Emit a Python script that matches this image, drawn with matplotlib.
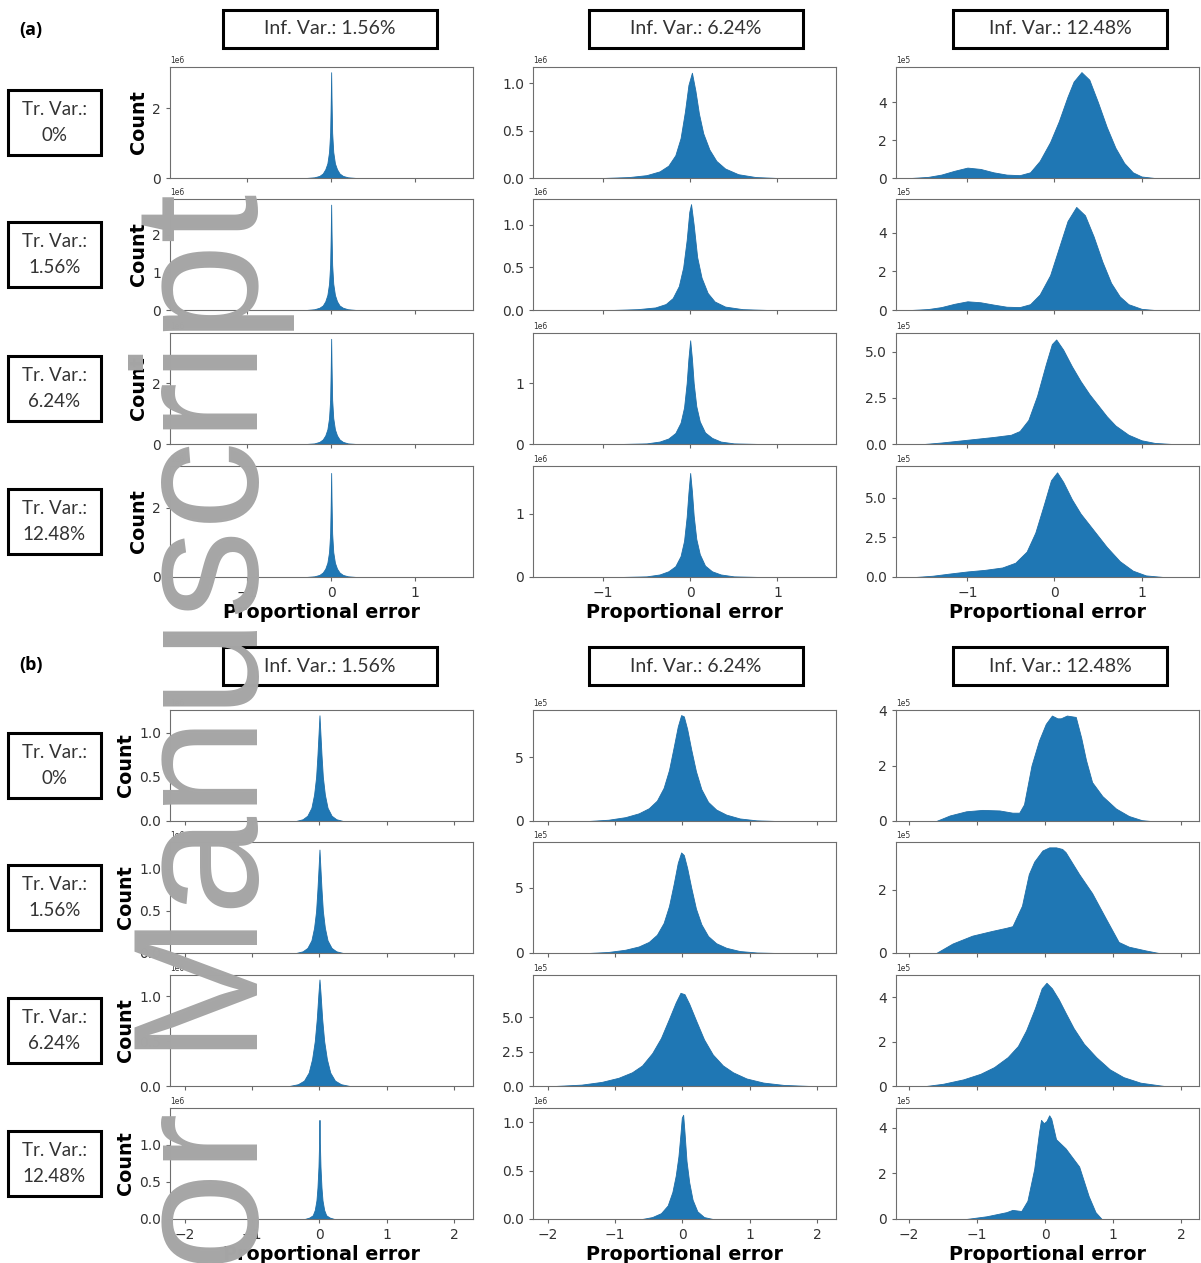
import matplotlib.pyplot as plt
import numpy as np
from matplotlib.patches import Rectangle

# figure size in pixels, every position below is in pixels from the top left corner
W, H = 1201, 1263

inf_var = ['Inf. Var.: 1.56%', 'Inf. Var.: 6.24%', 'Inf. Var.: 12.48%']
tr_var = ['Tr. Var.:\n0%', 'Tr. Var.:\n1.56%', 'Tr. Var.:\n6.24%', 'Tr. Var.:\n12.48%']

# +++ panel (a): proportional error vs count (count in units of the axis offset) +++
a11_x = [-0.3, -0.2, -0.14, -0.1, -0.07, -0.045, -0.025, -0.012, -0.005, 0, 0.005, 0.012, 0.025, 0.045, 0.07, 0.1, 0.14, 0.2, 0.3]
a11_y = [0, 0.02, 0.06, 0.13, 0.25, 0.42, 0.75, 1.3, 2.2, 3.04, 2.2, 1.3, 0.75, 0.42, 0.25, 0.13, 0.06, 0.02, 0]
a21_x = [-0.3, -0.2, -0.14, -0.1, -0.07, -0.045, -0.025, -0.012, -0.005, 0, 0.005, 0.012, 0.025, 0.045, 0.07, 0.1, 0.14, 0.2, 0.3]
a21_y = [0, 0.02, 0.06, 0.12, 0.23, 0.4, 0.7, 1.2, 2.0, 2.8, 2.0, 1.2, 0.7, 0.4, 0.23, 0.12, 0.06, 0.02, 0]
a31_x = [-0.3, -0.2, -0.14, -0.1, -0.07, -0.045, -0.025, -0.012, -0.005, 0, 0.005, 0.012, 0.025, 0.045, 0.07, 0.1, 0.14, 0.2, 0.3]
a31_y = [0, 0.02, 0.07, 0.15, 0.28, 0.48, 0.85, 1.45, 2.5, 3.45, 2.5, 1.45, 0.85, 0.48, 0.28, 0.15, 0.07, 0.02, 0]
a41_x = [-0.3, -0.2, -0.14, -0.1, -0.07, -0.045, -0.025, -0.012, -0.005, 0, 0.005, 0.012, 0.025, 0.045, 0.07, 0.1, 0.14, 0.2, 0.3]
a41_y = [0, 0.02, 0.06, 0.13, 0.24, 0.41, 0.72, 1.25, 2.15, 3.0, 2.15, 1.25, 0.72, 0.41, 0.24, 0.13, 0.06, 0.02, 0]

a12_x = [-1.0, -0.7, -0.5, -0.35, -0.25, -0.17, -0.11, -0.06, -0.02, 0.02, 0.06, 0.1, 0.15, 0.22, 0.3, 0.4, 0.55, 0.75, 1.0]
a12_y = [0, 0.01, 0.03, 0.07, 0.13, 0.24, 0.42, 0.7, 0.98, 1.11, 0.92, 0.68, 0.47, 0.3, 0.18, 0.1, 0.04, 0.01, 0]
a22_x = [-0.9, -0.6, -0.4, -0.28, -0.2, -0.13, -0.08, -0.04, -0.01, 0.01, 0.04, 0.08, 0.13, 0.2, 0.28, 0.4, 0.6, 0.9]
a22_y = [0, 0.01, 0.03, 0.07, 0.14, 0.28, 0.5, 0.82, 1.15, 1.24, 1.0, 0.62, 0.38, 0.2, 0.1, 0.04, 0.01, 0]
a32_x = [-0.8, -0.5, -0.35, -0.25, -0.17, -0.11, -0.07, -0.04, -0.02, 0, 0.02, 0.04, 0.07, 0.11, 0.17, 0.25, 0.35, 0.5, 0.8]
a32_y = [0, 0.01, 0.04, 0.09, 0.18, 0.35, 0.6, 1.0, 1.4, 1.7, 1.4, 1.0, 0.62, 0.37, 0.19, 0.1, 0.04, 0.01, 0]
a42_x = [-0.8, -0.5, -0.35, -0.25, -0.17, -0.11, -0.07, -0.04, -0.02, 0, 0.02, 0.04, 0.07, 0.11, 0.17, 0.25, 0.35, 0.5, 0.8]
a42_y = [0, 0.01, 0.04, 0.09, 0.17, 0.33, 0.57, 0.95, 1.33, 1.64, 1.35, 0.97, 0.6, 0.36, 0.18, 0.09, 0.04, 0.01, 0]

a13_x = [-1.65, -1.45, -1.3, -1.15, -1.0, -0.85, -0.7, -0.55, -0.4, -0.28, -0.17, -0.05, 0.05, 0.15, 0.22, 0.31, 0.4, 0.5, 0.6, 0.7, 0.8, 0.9, 1.0, 1.15]
a13_y = [0, 0.06, 0.18, 0.38, 0.55, 0.48, 0.3, 0.18, 0.15, 0.3, 0.9, 1.9, 3.0, 4.3, 5.1, 5.6, 5.2, 4.0, 2.7, 1.6, 0.8, 0.3, 0.08, 0]
a23_x = [-1.65, -1.45, -1.3, -1.15, -1.0, -0.85, -0.7, -0.55, -0.4, -0.28, -0.17, -0.05, 0.05, 0.15, 0.25, 0.35, 0.45, 0.55, 0.65, 0.75, 0.85, 1.0, 1.15]
a23_y = [0, 0.05, 0.15, 0.32, 0.45, 0.4, 0.28, 0.17, 0.15, 0.3, 0.8, 1.8, 3.2, 4.6, 5.33, 4.9, 3.8, 2.5, 1.4, 0.7, 0.3, 0.06, 0]
a33_x = [-1.5, -1.3, -1.1, -0.9, -0.7, -0.5, -0.4, -0.3, -0.2, -0.1, -0.03, 0.02, 0.1, 0.2, 0.3, 0.4, 0.5, 0.6, 0.7, 0.85, 1.0, 1.15, 1.35]
a33_y = [0, 0.08, 0.18, 0.28, 0.38, 0.5, 0.7, 1.3, 2.6, 4.3, 5.4, 5.65, 5.1, 4.2, 3.4, 2.7, 2.1, 1.5, 1.0, 0.5, 0.2, 0.06, 0]
a43_x = [-1.6, -1.4, -1.2, -1.0, -0.8, -0.6, -0.45, -0.32, -0.22, -0.12, -0.04, 0.03, 0.1, 0.2, 0.3, 0.4, 0.5, 0.6, 0.75, 0.9, 1.05, 1.25]
a43_y = [0, 0.08, 0.22, 0.35, 0.45, 0.6, 0.9, 1.6, 2.8, 4.6, 6.1, 6.6, 6.0, 4.9, 4.0, 3.3, 2.6, 1.9, 1.0, 0.4, 0.1, 0]

# +++ panel (b) +++
b11_x = [-0.35, -0.25, -0.18, -0.12, -0.08, -0.05, -0.03, -0.01, 0, 0.01, 0.03, 0.05, 0.08, 0.12, 0.18, 0.25, 0.35]
b11_y = [0, 0.02, 0.06, 0.15, 0.3, 0.5, 0.75, 1.05, 1.2, 1.05, 0.75, 0.5, 0.3, 0.15, 0.06, 0.02, 0]
b21_x = [-0.35, -0.25, -0.18, -0.12, -0.08, -0.05, -0.03, -0.01, 0, 0.01, 0.03, 0.05, 0.08, 0.12, 0.18, 0.25, 0.35]
b21_y = [0, 0.02, 0.06, 0.15, 0.3, 0.5, 0.76, 1.07, 1.23, 1.07, 0.76, 0.5, 0.3, 0.15, 0.06, 0.02, 0]
b31_x = [-0.45, -0.32, -0.23, -0.16, -0.11, -0.07, -0.04, -0.015, 0, 0.015, 0.04, 0.07, 0.11, 0.16, 0.23, 0.32, 0.45]
b31_y = [0, 0.02, 0.06, 0.15, 0.3, 0.5, 0.75, 1.04, 1.19, 1.04, 0.75, 0.5, 0.3, 0.15, 0.06, 0.02, 0]
b41_x = [-0.22, -0.15, -0.1, -0.07, -0.045, -0.03, -0.015, -0.005, 0, 0.005, 0.015, 0.03, 0.045, 0.07, 0.1, 0.15, 0.22]
b41_y = [0, 0.02, 0.05, 0.12, 0.25, 0.42, 0.7, 1.05, 1.33, 1.05, 0.7, 0.42, 0.25, 0.12, 0.05, 0.02, 0]

b12_x = [-1.4, -1.1, -0.85, -0.65, -0.5, -0.38, -0.28, -0.2, -0.13, -0.07, -0.02, 0.02, 0.07, 0.13, 0.2, 0.28, 0.38, 0.5, 0.65, 0.85, 1.1, 1.4]
b12_y = [0, 0.1, 0.3, 0.6, 1.0, 1.6, 2.6, 4.0, 5.8, 7.4, 8.3, 8.2, 7.2, 5.6, 3.9, 2.5, 1.5, 0.9, 0.5, 0.2, 0.05, 0]
b22_x = [-1.4, -1.1, -0.85, -0.65, -0.5, -0.38, -0.28, -0.2, -0.13, -0.07, -0.02, 0.02, 0.07, 0.13, 0.2, 0.28, 0.38, 0.5, 0.65, 0.85, 1.1, 1.4]
b22_y = [0, 0.08, 0.25, 0.5, 0.85, 1.4, 2.3, 3.6, 5.3, 6.9, 7.7, 7.5, 6.5, 5.0, 3.4, 2.2, 1.3, 0.75, 0.4, 0.15, 0.04, 0]
b32_x = [-1.9, -1.5, -1.2, -0.95, -0.75, -0.6, -0.45, -0.32, -0.2, -0.1, -0.03, 0.03, 0.1, 0.2, 0.32, 0.45, 0.6, 0.75, 0.95, 1.2, 1.5, 1.9]
b32_y = [0, 0.1, 0.3, 0.6, 1.0, 1.5, 2.4, 3.5, 4.9, 6.1, 6.8, 6.7, 6.0, 4.8, 3.4, 2.3, 1.5, 1.0, 0.55, 0.25, 0.08, 0]
b42_x = [-0.6, -0.45, -0.32, -0.22, -0.15, -0.1, -0.06, -0.03, -0.01, 0.01, 0.03, 0.06, 0.1, 0.15, 0.22, 0.32, 0.45]
b42_y = [0, 0.02, 0.06, 0.14, 0.28, 0.45, 0.65, 0.88, 1.05, 1.08, 0.9, 0.6, 0.38, 0.2, 0.08, 0.02, 0]

b13_x = [-1.6, -1.4, -1.16, -0.92, -0.67, -0.48, -0.38, -0.31, -0.2, -0.09, 0.01, 0.1, 0.18, 0.23, 0.32, 0.45, 0.53, 0.6, 0.69, 0.84, 1.04, 1.23, 1.42, 1.55]
b13_y = [0, 0.2, 0.35, 0.4, 0.38, 0.3, 0.3, 0.6, 2.0, 2.9, 3.5, 3.8, 3.7, 3.7, 3.8, 3.75, 3.0, 2.2, 1.4, 0.9, 0.45, 0.18, 0.03, 0]
b23_x = [-1.6, -1.36, -1.07, -0.78, -0.57, -0.48, -0.34, -0.24, -0.16, -0.04, 0.06, 0.16, 0.25, 0.3, 0.5, 0.69, 0.89, 1.08, 1.23, 1.48, 1.67]
b23_y = [0, 0.3, 0.55, 0.7, 0.8, 0.85, 1.5, 2.5, 2.9, 3.25, 3.35, 3.35, 3.3, 3.2, 2.5, 1.9, 1.1, 0.35, 0.2, 0.08, 0]
b33_x = [-1.75, -1.5, -1.2, -0.95, -0.75, -0.55, -0.4, -0.28, -0.15, -0.05, 0.02, 0.1, 0.2, 0.3, 0.42, 0.57, 0.75, 0.95, 1.15, 1.4, 1.75]
b33_y = [0, 0.1, 0.3, 0.55, 0.85, 1.3, 1.8, 2.5, 3.5, 4.4, 4.65, 4.4, 3.9, 3.3, 2.6, 1.9, 1.3, 0.75, 0.4, 0.15, 0]
b43_x = [-1.16, -0.86, -0.57, -0.48, -0.35, -0.26, -0.16, -0.09, -0.06, -0.02, 0.02, 0.06, 0.09, 0.16, 0.3, 0.5, 0.64, 0.74, 0.83]
b43_y = [0, 0.12, 0.3, 0.4, 0.35, 0.8, 2.2, 3.8, 4.35, 4.2, 4.3, 4.55, 4.4, 3.5, 3.1, 2.3, 1.0, 0.3, 0]

# axis settings (units of the offset)
a_scale = [[1e6, 1e6, 1e5]] * 4
a_ytop = [[3.19, 1.17, 5.87], [2.95, 1.30, 5.74], [3.64, 1.82, 6.0], [3.2, 1.75, 7.0]]
a_yticks = [[[0, 2], [0, 0.5, 1.0], [0, 2, 4]],
            [[0, 1, 2], [0, 0.5, 1.0], [0, 2, 4]],
            [[0, 2], [0, 1], [0, 2.5, 5.0]],
            [[0, 2], [0, 1], [0, 2.5, 5.0]]]
a_xlim = [(-1.92, 1.69), (-1.8, 1.67), (-1.82, 1.66)]
a_xticks = [-1, 0, 1]

b_scale = [[1e6, 1e5, 1e5], [1e6, 1e5, 1e5], [1e6, 1e5, 1e5], [1e6, 1e6, 1e5]]
b_ytop = [[1.26, 8.7, 4.0], [1.32, 8.5, 3.52], [1.24, 8.1, 5.0], [1.49, 1.15, 4.87]]
b_yticks = [[[0, 0.5, 1.0], [0, 5], [0, 2, 4]],
            [[0, 0.5, 1.0], [0, 5], [0, 2]],
            [[0, 0.5, 1.0], [0, 2.5, 5.0], [0, 2, 4]],
            [[0, 0.5, 1.0], [0, 0.5, 1.0], [0, 2, 4]]]
b_xlim = [(-2.22, 2.28), (-2.22, 2.28), (-2.19, 2.26)]
b_xticks = [-2, -1, 0, 1, 2]

a_curves = [[(a11_x, a11_y), (a12_x, a12_y), (a13_x, a13_y)],
            [(a21_x, a21_y), (a22_x, a22_y), (a23_x, a23_y)],
            [(a31_x, a31_y), (a32_x, a32_y), (a33_x, a33_y)],
            [(a41_x, a41_y), (a42_x, a42_y), (a43_x, a43_y)]]
b_curves = [[(b11_x, b11_y), (b12_x, b12_y), (b13_x, b13_y)],
            [(b21_x, b21_y), (b22_x, b22_y), (b23_x, b23_y)],
            [(b31_x, b31_y), (b32_x, b32_y), (b33_x, b33_y)],
            [(b41_x, b41_y), (b42_x, b42_y), (b43_x, b43_y)]]

col_left = [170, 533, 896]
ax_w, ax_h = 303, 111
head_x = [223, 589, 953]
head_w = 214

fig = plt.figure(figsize=(W / 100, H / 100), dpi=100)
fig.patch.set_facecolor('white')


def px_box(x, y, w, h, lw=2.2):
    # rectangle given in pixels from the top left
    fig.add_artist(Rectangle((x / W, 1 - (y + h) / H), w / W, h / H, transform=fig.transFigure,
                             fill=False, edgecolor='black', linewidth=lw))


def px_text(x, y, s, **kw):
    fig.text(x / W, 1 - y / H, s, **kw)


def draw_panel(row_top, curves, scales, ytops, yticks, xlims, xticks, head_y, tag, tag_y):
    px_text(31, tag_y, tag, ha='center', va='center', fontsize=13, fontweight='bold', family='Open Sans')
    for j in range(3):
        px_box(head_x[j], head_y, head_w, 38)
        px_text(head_x[j] + head_w / 2, head_y + 19, inf_var[j], ha='center', va='center',
                fontsize=14, family='Lato', color='#333333')
    for i in range(4):
        px_box(8, row_top[i] + 23, 93, 65)
        px_text(54.5, row_top[i] + 55.5, tr_var[i], ha='center', va='center', fontsize=13.5,
                family='Lato', color='#333333', linespacing=1.65)
        for j in range(3):
            ax = fig.add_axes([col_left[j] / W, 1 - (row_top[i] + ax_h) / H, ax_w / W, ax_h / H])
            x, y = curves[i][j]
            s = scales[i][j]
            ax.fill_between(x, np.array(y) * s, 0, color='#1f77b4', linewidth=0.6, edgecolor='#1f6fa8')
            ax.set_xlim(xlims[j])
            ax.set_ylim(0, ytops[i][j] * s)
            ax.set_xticks(xticks)
            ax.set_yticks(np.array(yticks[i][j]) * s)
            ax.ticklabel_format(axis='y', style='sci', scilimits=(0, 0))
            ax.yaxis.get_offset_text().set_fontsize(5.5)
            ax.yaxis.get_offset_text().set_color('#555555')
            ax.tick_params(labelsize=10, labelcolor='#333333', color='#666666', length=3)
            for sp in ax.spines.values():
                sp.set_color('#6e6e6e')
            if i < 3:
                ax.tick_params(labelbottom=False)
            else:
                ax.set_xlabel('Proportional error', fontsize=13.8, fontweight='bold', labelpad=2)
            if j == 0:
                ax.set_ylabel('Count', fontsize=13.8, fontweight='bold', labelpad=3)


draw_panel([67, 199, 333, 466], a_curves, a_scale, a_ytop, a_yticks, a_xlim, a_xticks, 10, '(a)', 30)
draw_panel([710, 842, 975, 1108], b_curves, b_scale, b_ytop, b_yticks, b_xlim, b_xticks, 647, '(b)', 665)

# watermark running up the left side of the page
px_text(295, 193, 'Author Manuscript', rotation=90, ha='right', va='top', fontsize=128,
        family='Liberation Sans', color='#a6a6a6')

plt.savefig('out.png', dpi=100, facecolor='white')
